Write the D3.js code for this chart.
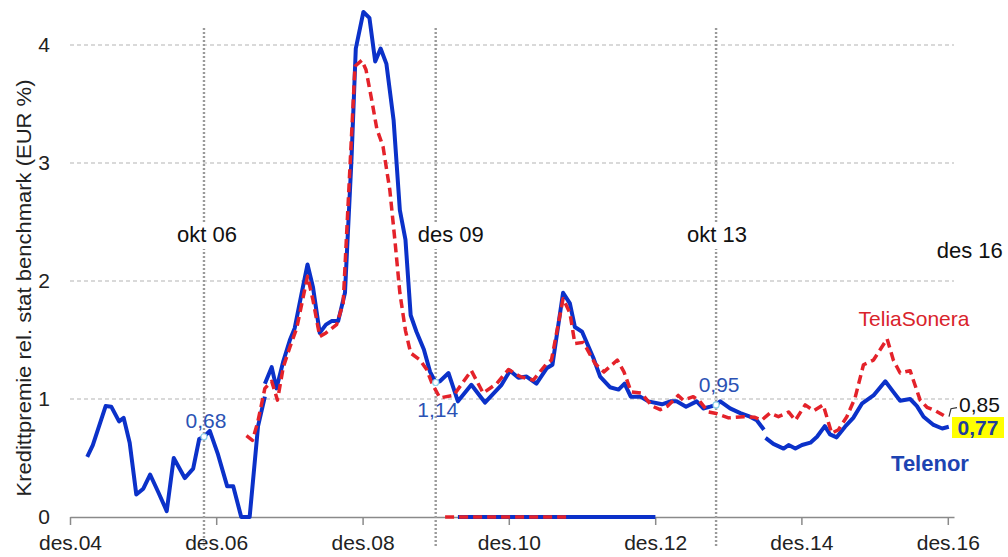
<!DOCTYPE html>
<html>
<head>
<meta charset="utf-8">
<script src="https://cdn.jsdelivr.net/npm/d3@7"></script>
<style>
  body { margin: 0; background: #fff; }
  svg { font-family: "Liberation Sans", Arial, sans-serif; }
</style>
</head>
<body>
<svg id="chart" width="1008" height="557"></svg>
<script>
// Telenor (solid blue), null = break in the line
const telenor = [
  ['2005-02-25', 0.51], ['2005-03-25', 0.61], ['2005-05-28', 0.94], ['2005-06-25', 0.935],
  ['2005-08-03', 0.81], ['2005-08-26', 0.84], ['2005-09-25', 0.63], ['2005-10-28', 0.19],
  ['2005-12-02', 0.24], ['2006-01-05', 0.36], ['2006-02-15', 0.21], ['2006-03-29', 0.05],
  ['2006-05-03', 0.50], ['2006-06-27', 0.33], ['2006-08-08', 0.41], ['2006-09-07', 0.66],
  ['2006-10-01', 0.68], ['2006-10-30', 0.73], ['2006-12-10', 0.53], ['2007-01-25', 0.26],
  ['2007-02-24', 0.26], ['2007-04-05', 0.0], ['2007-05-17', 0.0], ['2007-06-28', 0.77],
  ['2007-08-01', 1.02], ['2007-08-01', null],
  ['2007-08-01', 1.13], ['2007-09-04', 1.27], ['2007-09-28', 1.09], ['2007-11-01', 1.32],
  ['2007-12-04', 1.50], ['2007-12-28', 1.60], ['2008-02-01', 1.90], ['2008-03-01', 2.14],
  ['2008-03-28', 1.95], ['2008-05-01', 1.56], ['2008-06-01', 1.63], ['2008-06-29', 1.66],
  ['2008-08-01', 1.66], ['2008-09-04', 1.90], ['2008-10-07', 3.05], ['2008-10-28', 3.97],
  ['2008-12-05', 4.28], ['2009-01-04', 4.23], ['2009-02-02', 3.86], ['2009-03-01', 3.97],
  ['2009-03-30', 3.84], ['2009-05-05', 3.36], ['2009-06-05', 2.60], ['2009-07-03', 2.35],
  ['2009-07-29', 1.71], ['2009-08-27', 1.57], ['2009-10-03', 1.42], ['2009-11-03', 1.23],
  ['2009-12-01', 1.14], ['2009-12-22', 1.15], ['2010-02-03', 1.22], ['2010-03-22', 0.98],
  ['2010-05-28', 1.12], ['2010-08-04', 0.97], ['2010-10-26', 1.12], ['2010-12-07', 1.24],
  ['2011-01-18', 1.18], ['2011-02-28', 1.19], ['2011-04-18', 1.13], ['2011-06-08', 1.26],
  ['2011-07-07', 1.29], ['2011-08-29', 1.90], ['2011-10-02', 1.81], ['2011-10-27', 1.61],
  ['2011-12-02', 1.57], ['2012-01-27', 1.35], ['2012-03-01', 1.19], ['2012-04-19', 1.10],
  ['2012-06-01', 1.08], ['2012-07-01', 1.13], ['2012-08-01', 1.02], ['2012-09-17', 1.02],
  ['2012-10-28', 0.98], ['2013-01-04', 0.955], ['2013-02-15', 0.98], ['2013-03-18', 0.98],
  ['2013-05-04', 0.935], ['2013-06-26', 0.98], ['2013-07-29', 0.92], ['2013-09-02', 0.935],
  ['2013-10-01', 0.95], ['2013-10-22', 0.98], ['2013-12-10', 0.92], ['2014-01-30', 0.88],
  ['2014-03-19', 0.85], ['2014-04-22', 0.82], ['2014-05-28', 0.74], ['2014-06-01', null],
  ['2014-06-05', 0.67], ['2014-07-14', 0.62], ['2014-09-03', 0.58], ['2014-09-28', 0.61],
  ['2014-11-01', 0.58], ['2014-12-04', 0.61], ['2015-01-15', 0.63], ['2015-02-17', 0.68],
  ['2015-03-28', 0.77], ['2015-04-23', 0.70], ['2015-05-26', 0.675], ['2015-07-07', 0.765],
  ['2015-08-17', 0.84], ['2015-09-29', 0.96], ['2015-11-26', 1.03], ['2016-01-24', 1.15],
  ['2016-03-04', 1.06], ['2016-04-07', 0.985], ['2016-05-27', 1.00], ['2016-06-30', 0.94],
  ['2016-08-02', 0.85], ['2016-09-21', 0.78], ['2016-11-03', 0.75], ['2016-12-06', 0.765]
];

// TeliaSonera (dashed red)
const telia = [
  ['2007-05-01', 0.69], ['2007-05-31', 0.65], ['2007-06-26', 0.80], ['2007-08-01', 1.09],
  ['2007-09-04', 1.15], ['2007-10-03', 0.99], ['2007-11-01', 1.27], ['2007-12-04', 1.44],
  ['2008-01-07', 1.60], ['2008-03-01', 2.04], ['2008-03-28', 1.84], ['2008-05-01', 1.53],
  ['2008-06-01', 1.56], ['2008-07-24', 1.63], ['2008-08-26', 1.81], ['2008-09-29', 2.97],
  ['2008-10-24', 3.82], ['2008-11-27', 3.87], ['2008-12-18', 3.79], ['2009-01-16', 3.53],
  ['2009-02-10', 3.29], ['2009-03-13', 3.14], ['2009-04-16', 2.77], ['2009-05-11', 2.35],
  ['2009-06-05', 1.90], ['2009-07-03', 1.58], ['2009-07-29', 1.39], ['2009-09-14', 1.33],
  ['2009-10-17', 1.25], ['2009-11-13', 1.13], ['2009-12-22', 1.01], ['2010-02-28', 1.03],
  ['2010-05-28', 1.24], ['2010-07-26', 1.05], ['2010-10-01', 1.13], ['2010-11-29', 1.25],
  ['2011-01-27', 1.19], ['2011-04-02', 1.16], ['2011-06-08', 1.30], ['2011-07-02', 1.33],
  ['2011-08-29', 1.85], ['2011-10-02', 1.73], ['2011-10-27', 1.47], ['2011-12-08', 1.48],
  ['2012-02-05', 1.30], ['2012-03-20', 1.23], ['2012-05-26', 1.33], ['2012-06-28', 1.23],
  ['2012-08-03', 1.06], ['2012-09-22', 1.05], ['2012-11-16', 0.94], ['2012-12-26', 0.91],
  ['2013-02-01', 0.94], ['2013-03-26', 1.03], ['2013-04-20', 0.99], ['2013-06-09', 1.02],
  ['2013-07-12', 0.98], ['2013-08-23', 0.89], ['2013-09-26', 0.88], ['2013-12-02', 0.84],
  ['2014-02-16', 0.85], ['2014-04-13', 0.845], ['2014-05-16', 0.82], ['2014-06-27', 0.88],
  ['2014-08-08', 0.85], ['2014-09-28', 0.89], ['2014-11-01', 0.82], ['2014-12-20', 0.95],
  ['2015-02-01', 0.90], ['2015-03-20', 0.95], ['2015-05-01', 0.71], ['2015-06-04', 0.74],
  ['2015-07-16', 0.85], ['2015-08-26', 1.01], ['2015-10-07', 1.29], ['2015-11-26', 1.33],
  ['2016-02-02', 1.51], ['2016-03-04', 1.33], ['2016-04-07', 1.22], ['2016-05-27', 1.24],
  ['2016-07-16', 0.99], ['2016-08-19', 0.93], ['2016-10-01', 0.90], ['2016-11-11', 0.86]
];

// flat runs sitting on the zero line
const telenorFloor = [['2010-03-22', 0], ['2012-12-02', 0]];
const teliaFloor = [['2010-01-17', 0], ['2011-10-02', 0]];

const xTickDates = ['2004-12-01', '2006-12-01', '2008-12-01', '2010-12-01', '2012-12-01', '2014-12-01', '2016-12-01'];
const xTickLabels = ['des.04', 'des.06', 'des.08', 'des.10', 'des.12', 'des.14', 'des.16'];
const yTicks = [0, 1, 2, 3, 4];

// reference lines and their labels
const refDates = ['2006-10-01', '2009-12-01', '2013-10-01', '2016-12-01'];
const refLabels = ['okt 06', 'des 09', 'okt 13', 'des 16'];
const refHasLine = [true, true, true, false];

// value call-outs on the Telenor line
const calloutDates = ['2006-10-01', '2009-12-01', '2013-10-01'];
const calloutValues = [0.68, 1.14, 0.95];
const calloutText = ['0,68', '1,14', '0,95'];

const endTelia = 0.85;
const endTelenor = 0.77;

const parse = d3.timeParse('%Y-%m-%d');
const toPts = arr => arr.map(d => ({ date: parse(d[0]), v: d[1] }));

const svg = d3.select('#chart');

const x = d3.scaleTime()
  .domain([parse('2004-12-01'), parse('2017-01-01')])
  .range([70, 954]);

const y = d3.scaleLinear()
  .domain([0, 4])
  .range([517, 45]);

// horizontal grid
svg.append('g')
  .selectAll('line')
  .data(yTicks.filter(d => d > 0))
  .enter()
  .append('line')
  .attr('x1', 70)
  .attr('x2', 954)
  .attr('y1', d => y(d))
  .attr('y2', d => y(d))
  .attr('stroke', '#b4b4b4')
  .attr('stroke-width', 1.2)
  .attr('stroke-dasharray', '4,3');

// y axis labels only
const yAxis = svg.append('g')
  .attr('transform', 'translate(70,0)')
  .call(d3.axisLeft(y).tickValues(yTicks).tickSize(0).tickPadding(20).tickFormat(d3.format('d')));
yAxis.select('.domain').remove();
yAxis.selectAll('text')
  .style('font-size', '21px')
  .style('font-family', '"Liberation Sans", Arial, sans-serif')
  .attr('fill', '#222');

// x axis
const xAxis = svg.append('g')
  .attr('transform', 'translate(0,517)')
  .call(d3.axisBottom(x)
    .tickValues(xTickDates.map(parse))
    .tickSize(8)
    .tickSizeOuter(0)
    .tickPadding(10)
    .tickFormat((d, i) => xTickLabels[i]));
xAxis.select('.domain').attr('stroke', '#8a8a8a').attr('stroke-width', 1.5);
xAxis.selectAll('.tick line').attr('stroke', '#8a8a8a').attr('stroke-width', 1.5);
xAxis.selectAll('text')
  .style('font-size', '21px')
  .style('font-family', '"Liberation Sans", Arial, sans-serif')
  .attr('fill', '#222');

// y axis title
svg.append('text')
  .attr('transform', 'translate(31,288) rotate(-90)')
  .attr('text-anchor', 'middle')
  .attr('textLength', 417)
  .attr('lengthAdjust', 'spacingAndGlyphs')
  .style('font-size', '20px')
  .attr('fill', '#222')
  .text('Kredittpremie rel. stat benchmark (EUR %)');

// vertical dotted reference lines
refDates.forEach((d, i) => {
  if (!refHasLine[i]) return;
  svg.append('line')
    .attr('x1', x(parse(d)))
    .attr('x2', x(parse(d)))
    .attr('y1', 28)
    .attr('y2', 547)
    .attr('stroke', '#9a9a9a')
    .attr('stroke-width', 2.4)
    .attr('stroke-dasharray', '2,2');
});

// reference labels (white backed so they cut the dotted line)
const refDx = [3, 15, 1, 22];
const refY = [242, 242, 242, 258];
refDates.forEach((d, i) => {
  const cx = x(parse(d)) + refDx[i];
  const t = svg.append('text')
    .attr('x', cx)
    .attr('y', refY[i])
    .attr('text-anchor', 'middle')
    .style('font-size', '22px')
    .attr('fill', '#111')
    .text(refLabels[i]);
  const bb = t.node().getBBox();
  svg.insert('rect', () => t.node())
    .attr('x', bb.x - 3)
    .attr('y', bb.y + 2)
    .attr('width', bb.width + 6)
    .attr('height', bb.height)
    .attr('fill', '#fff');
});

const line = d3.line()
  .defined(d => d.v != null)
  .x(d => x(d.date))
  .y(d => y(d.v));

const blue = '#0b31c9';
const red = '#e4222a';

svg.append('path')
  .datum(toPts(telenorFloor))
  .attr('d', line)
  .attr('fill', 'none')
  .attr('stroke', blue)
  .attr('stroke-width', 4);

svg.append('path')
  .datum(toPts(teliaFloor))
  .attr('d', line)
  .attr('fill', 'none')
  .attr('stroke', red)
  .attr('stroke-width', 3.5)
  .attr('stroke-dasharray', '9,5');

svg.append('path')
  .datum(toPts(telenor))
  .attr('d', line)
  .attr('fill', 'none')
  .attr('stroke', blue)
  .attr('stroke-width', 4)
  .attr('stroke-linejoin', 'round');

svg.append('path')
  .datum(toPts(telia))
  .attr('d', line)
  .attr('fill', 'none')
  .attr('stroke', red)
  .attr('stroke-width', 3.5)
  .attr('stroke-dasharray', '9,5')
  .attr('stroke-linejoin', 'round');

// call-out markers and values
const calloutDx = [2, 2, 3];
const calloutDy = [-9, 35, -13];
calloutDates.forEach((d, i) => {
  const px = x(parse(d));
  const py = y(calloutValues[i]);
  svg.append('circle')
    .attr('cx', px)
    .attr('cy', py)
    .attr('r', 3)
    .attr('fill', '#fff')
    .attr('stroke', '#8fd3e8')
    .attr('stroke-width', 1.2);
  svg.append('text')
    .attr('x', px + calloutDx[i])
    .attr('y', py + calloutDy[i])
    .attr('text-anchor', 'middle')
    .style('font-size', '21px')
    .attr('fill', '#2b52b4')
    .text(calloutText[i]);
});

// end values
const fmt = v => d3.format('.2f')(v).replace('.', ',');
svg.append('path')
  .attr('d', `M949,${y(endTelia)} L951,${y(endTelia) - 8} L957,${y(endTelia) - 9}`)
  .attr('fill', 'none')
  .attr('stroke', '#333')
  .attr('stroke-width', 1.2);
svg.append('text')
  .attr('x', 959)
  .attr('y', y(endTelia) - 5)
  .style('font-size', '21px')
  .attr('fill', '#111')
  .text(fmt(endTelia));

svg.append('rect')
  .attr('x', 952)
  .attr('y', 417)
  .attr('width', 52)
  .attr('height', 21)
  .attr('fill', '#ffff00');
svg.append('text')
  .attr('x', 978)
  .attr('y', 435)
  .attr('text-anchor', 'middle')
  .style('font-size', '21px')
  .style('font-weight', 'bold')
  .attr('fill', '#1f3d9c')
  .text(fmt(endTelenor));

// series names
svg.append('text')
  .attr('x', 914)
  .attr('y', 326)
  .attr('text-anchor', 'middle')
  .style('font-size', '21px')
  .attr('fill', '#d9232b')
  .text('TeliaSonera');

svg.append('text')
  .attr('x', 930)
  .attr('y', 471)
  .attr('text-anchor', 'middle')
  .style('font-size', '22px')
  .style('font-weight', 'bold')
  .attr('fill', '#1d44b2')
  .text('Telenor');
</script>
</body>
</html>
